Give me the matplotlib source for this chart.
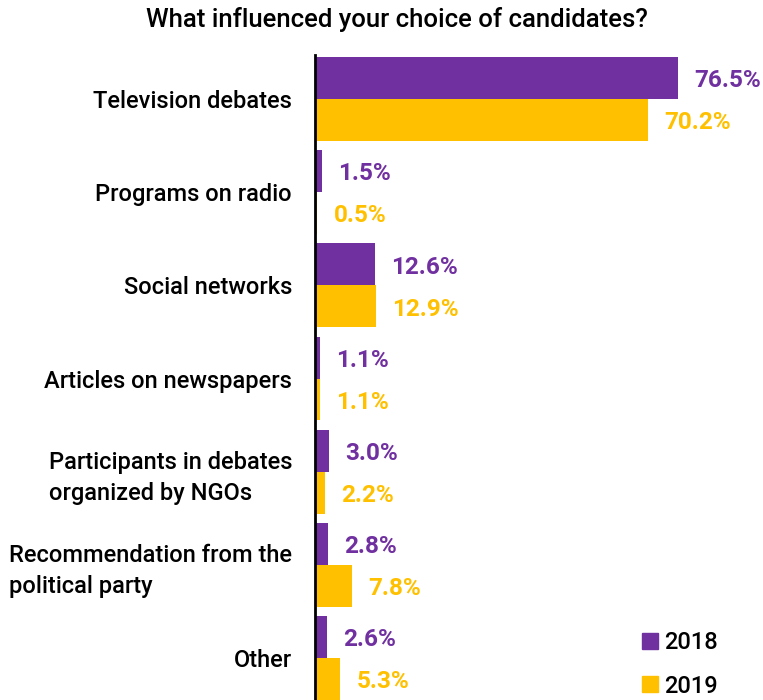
import matplotlib.pyplot as plt
import numpy as np
from matplotlib.lines import Line2D

# Umfragedaten
categories = [
    "Television debates",
    "Programs on radio",
    "Social networks",
    "Articles on newspapers",
    "Participants in debates\norganized by NGOs",
    "Recommendation from the\npolitical party",
    "Other",
]
values_2018 = [76.5, 1.5, 12.6, 1.1, 3.0, 2.8, 2.6]
values_2019 = [70.2, 0.5, 12.9, 1.1, 2.2, 7.8, 5.3]
years = ["2018", "2019"]

purple = "#7030A0"
gold = "#FFC000"

plt.rcParams["font.family"] = ["Roboto", "DejaVu Sans"]

fig = plt.figure(figsize=(7.63, 7.0), dpi=100)
ax = fig.add_axes([315 / 763, 0.0, 1 - 315 / 763, 645 / 700])

y = np.arange(len(categories))
h = 0.45
ax.barh(y - h / 2, values_2018, height=h, color=purple)
ax.barh(y + h / 2, values_2019, height=h, color=gold)

# Werte neben die Balken schreiben
for yi, v in zip(y, values_2018):
    ax.text(v + 3.4, yi - h / 2 + 0.03, f"{v:.1f}%", va="center", ha="left",
            color=purple, fontsize=17.5, fontweight="bold")
for yi, v in zip(y, values_2019):
    ax.text(v + 3.4, yi + h / 2 + 0.03, f"{v:.1f}%", va="center", ha="left",
            color=gold, fontsize=17.5, fontweight="bold")

ax.set_xlim(0, 448 / 4.745)
ax.set_ylim(6.45, -0.472)
ax.set_xticks([])
ax.set_yticks(y)
ax.set_yticklabels(categories, fontsize=17, fontweight="medium")
ax.tick_params(axis="y", length=0, pad=16.5)
for lbl in ax.get_yticklabels():
    lbl.set_multialignment("left")
    lbl.set_linespacing(1.45)

for s in ["top", "right", "bottom"]:
    ax.spines[s].set_visible(False)
ax.spines["left"].set_linewidth(2)
ax.spines["left"].set_color("black")

fig.text(397 / 763, 1 - 20 / 700, "What influenced your choice of candidates?",
         ha="center", va="center", fontsize=18.5, fontweight="medium")

# Legende
handles = [Line2D([], [], marker="s", linestyle="none", markersize=12, color=c)
           for c in (purple, gold)]
fig.legend(handles, years, loc="upper left", bbox_to_anchor=(626 / 763, 1 - 622 / 700),
           frameon=False, fontsize=17, labelspacing=0.85, handletextpad=0.0,
           handlelength=1.2, borderaxespad=0, prop={"weight": "medium", "size": 17})

plt.savefig("out.png", dpi=100)
